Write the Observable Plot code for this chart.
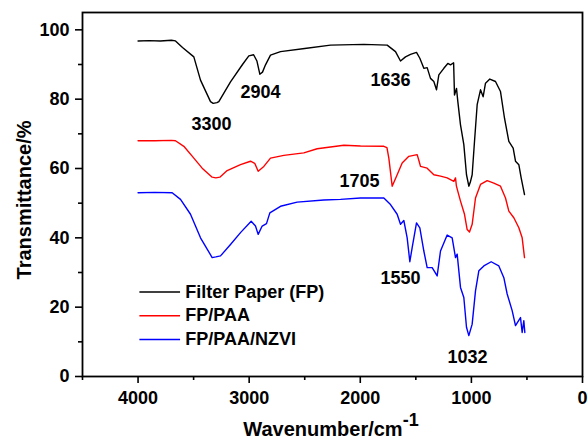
<!DOCTYPE html>
<html><head><meta charset="utf-8">
<script src="https://cdn.jsdelivr.net/npm/d3@7"></script>
<script src="https://cdn.jsdelivr.net/npm/@observablehq/plot@0.6"></script>
<style>body{margin:0;background:#fff} #chart{position:relative;width:588px;height:442px}</style>
</head><body><div id="chart"></div>
<script>
// ---- Data ----
const fpWn = [4000, 3900, 3800, 3700, 3663, 3600, 3498, 3438, 3348, 3324, 3290, 3273, 3168, 3060, 3003, 2960, 2930, 2904, 2880, 2853, 2808, 2718, 2500, 2268, 1968, 1758, 1683, 1638, 1593, 1548, 1494, 1464, 1428, 1398, 1368, 1338, 1314, 1293, 1248, 1212, 1188, 1160, 1152, 1134, 1122, 1098, 1068, 1044, 1023, 1010, 993, 972, 948, 918, 894, 873, 834, 783, 738, 702, 663, 624, 603, 573, 552, 534, 522];
const fpT  = [96.8, 96.9, 96.8, 97.0, 96.8, 94.9, 92.2, 85.5, 79.3, 78.8, 79.0, 79.3, 85.0, 90.0, 92.5, 92.8, 91.0, 87.2, 87.8, 89.9, 92.7, 93.7, 94.6, 95.6, 95.8, 95.6, 93.7, 91.0, 92.2, 92.9, 93.5, 91.8, 88.9, 89.1, 86.0, 85.1, 82.7, 87.0, 88.9, 90.3, 89.9, 90.5, 81.2, 83.1, 79.3, 72.6, 66.9, 58.2, 54.9, 56.0, 58.2, 67.8, 78.4, 82.7, 80.7, 84.6, 85.8, 85.1, 82.2, 74.5, 67.8, 65.9, 62.1, 61.1, 57.3, 54.4, 52.5];

const paaWn = [4000, 3850, 3700, 3663, 3588, 3498, 3423, 3333, 3300, 3264, 3198, 3078, 2988, 2950, 2919, 2868, 2808, 2688, 2508, 2388, 2148, 1998, 1788, 1760, 1743, 1713, 1668, 1623, 1563, 1488, 1470, 1458, 1398, 1338, 1278, 1218, 1158, 1143, 1135, 1122, 1098, 1062, 1038, 1017, 993, 963, 918, 858, 798, 738, 693, 663, 618, 573, 543, 522];
const paaT  = [68.0, 68.0, 68.1, 68.0, 66.4, 63.0, 60.1, 57.5, 57.3, 57.5, 59.4, 61.1, 62.1, 61.5, 59.2, 60.6, 63.0, 63.8, 64.5, 65.7, 66.7, 66.5, 66.4, 66.0, 63.0, 54.9, 58.2, 61.6, 63.5, 64.0, 62.0, 60.6, 60.1, 58.2, 57.8, 57.3, 56.3, 57.3, 55.0, 53.4, 50.6, 46.8, 42.4, 41.7, 43.9, 51.5, 55.4, 56.5, 55.8, 54.9, 51.5, 47.7, 45.8, 42.9, 40.0, 34.3];

const nzviWn = [4000, 3850, 3693, 3618, 3528, 3438, 3333, 3300, 3258, 3168, 3078, 2982, 2943, 2919, 2883, 2844, 2814, 2718, 2568, 2328, 2178, 1998, 1788, 1728, 1668, 1638, 1608, 1578, 1554, 1533, 1494, 1464, 1428, 1398, 1353, 1308, 1278, 1218, 1173, 1143, 1128, 1098, 1068, 1044, 1023, 993, 963, 933, 888, 822, 753, 708, 678, 633, 603, 558, 543, 528, 519];
const nzviT  = [53.0, 53.1, 53.0, 51.1, 46.8, 40.0, 34.3, 34.5, 34.8, 38.1, 41.5, 44.8, 43.4, 41.0, 43.4, 44.1, 47.2, 49.1, 50.3, 50.9, 51.1, 51.5, 51.5, 49.6, 46.8, 43.9, 45.0, 40.0, 33.1, 37.2, 44.3, 42.9, 36.2, 31.4, 31.4, 29.0, 36.2, 40.8, 40.0, 34.3, 35.3, 25.7, 22.8, 14.2, 11.8, 15.1, 24.7, 30.5, 31.9, 33.1, 31.9, 28.5, 23.8, 19.0, 14.7, 17.0, 12.7, 16.1, 12.7];

const seriesNames = ["Filter Paper (FP)", "FP/PAA", "FP/PAA/NZVI"];
const seriesColors = ["#000000", "#ff0000", "#0000ff"];

const xMajor = [4000, 3000, 2000, 1000, 0];
const xMinor = [4500, 3500, 2500, 1500, 500];
const yMajor = [0, 20, 40, 60, 80, 100];
const yMinor = [10, 30, 50, 70, 90];

const annLabels = ["3300", "2904", "1636", "1705", "1550", "1032"];
const annWn     = [3339, 2898, 1728, 2007, 1638, 1035];
const annT      = [72.7, 82.0, 85.6, 56.3, 28.4, 5.5];

// ---- Build ----
const spectra = [[fpWn, fpT], [paaWn, paaT], [nzviWn, nzviT]].map(([w, t], k) =>
  w.map((x, i) => ({series: seriesNames[k], color: seriesColors[k], wn: x, t: t[i]})));
const annotations = annLabels.map((s, i) => ({label: s, wn: annWn[i], t: annT[i]}));

// legend layout (in data units)
const legX1 = 3988, legX2 = 3622, legTextX = 3575, legY0 = 24.4, legStep = 6.85;
const legend = seriesNames.map((n, i) => ({name: n, color: seriesColors[i], y: legY0 - i * legStep}));

const font = "'Liberation Sans', Arial, Helvetica, sans-serif";

const plot = Plot.plot({
  width: 588, height: 442,
  marginLeft: 82, marginRight: 6, marginTop: 12, marginBottom: 66,
  style: {fontFamily: font, fontSize: "18px", fontWeight: "bold", background: "white", color: "black"},
  x: {domain: [4500, 0]},
  y: {domain: [0, 105]},
  marks: [
    Plot.axisX({ticks: xMinor, tickSize: 4, text: null, label: null, strokeWidth: 1.6}),
    Plot.axisX({ticks: xMajor, tickSize: 7, tickPadding: 8, tickFormat: d => String(d), label: null, strokeWidth: 1.6}),
    Plot.axisY({ticks: yMinor, tickSize: 4, text: null, label: null, strokeWidth: 1.6}),
    Plot.axisY({ticks: yMajor, tickSize: 7, tickPadding: 6, tickFormat: d => String(d), label: null, strokeWidth: 1.6}),
    ...spectra.map(rows => Plot.line(rows, {x: "wn", y: "t", stroke: rows[0].color, strokeWidth: 1.4})),
    Plot.text(annotations, {x: "wn", y: "t", text: "label", fontSize: 18, fontWeight: "bold", fill: "black"}),
    Plot.link(legend, {x1: () => legX1, x2: () => legX2, y1: "y", y2: "y", stroke: "color", strokeWidth: 1.5}),
    Plot.text(legend, {x: () => legTextX, y: "y", text: "name", textAnchor: "start", fontSize: 18, fontWeight: "bold", fill: "black"}),
    Plot.frame({stroke: "black", strokeWidth: 1.8})
  ]
});

const svg = d3.select(plot);
// y-axis title
svg.append("text")
  .attr("transform", "translate(31,200) rotate(-90)")
  .attr("text-anchor", "middle")
  .attr("font-family", font).attr("font-weight", "bold").attr("font-size", 20)
  .attr("fill", "black")
  .text("Transmittance/%");
// x-axis title with superscript
const xt = svg.append("text")
  .attr("x", 331).attr("y", 436)
  .attr("text-anchor", "middle")
  .attr("font-family", font).attr("font-weight", "bold").attr("font-size", 20)
  .attr("fill", "black");
xt.append("tspan").text("Wavenumber/cm");
xt.append("tspan").attr("dy", -10).attr("font-size", 18).text("-1");

document.getElementById("chart").appendChild(plot);
</script>
</body></html>
